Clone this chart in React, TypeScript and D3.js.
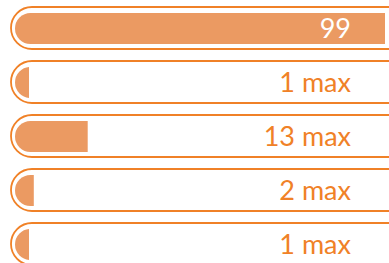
import React from "react";
import * as d3 from "d3";

// values
const rows = ["a", "b", "c", "d", "e"];
const values = [99, 1, 13, 2, 1];
const labels = ["99", "1 max", "13 max", "2 max", "1 max"];
const labelInside = [true, false, false, false, false];

const W = 389;
const H = 263;

export default function App() {
  const y = d3.scaleBand<string>()
    .domain(rows)
    .range([7, 265])
    .paddingInner(12 / 54)
    .paddingOuter(0);

  // bar length scale; fill never runs past the end of the inner track
  const x = d3.scaleLinear().domain([0, 100]).range([9, 499]);
  const trackLeft = 15;
  const trackEnd = 385;

  const outline = "#F08127";
  const fill = "#EB9A62";

  return (
    <svg width={W} height={H} style={{ position: "absolute", left: 0, top: 0 }}>
      <defs>
        {rows.map((r, i) => {
          const w = Math.min(x(values[i]), trackEnd - trackLeft);
          return (
            <clipPath id={"clip-" + r} key={r}>
              <rect x={trackLeft} y={(y(r) ?? 0) + 6} width={w} height={31} />
            </clipPath>
          );
        })}
      </defs>
      {rows.map((r, i) => {
        const top = y(r) ?? 0;
        const bh = y.bandwidth();
        return (
          <g key={r}>
            <rect x={11} y={top} width={440} height={bh} rx={bh / 2}
              fill="white" stroke={outline} strokeWidth={1.8} />
            <rect x={trackLeft} y={top + 6} width={500} height={bh - 11} rx={15.5}
              fill={fill} clipPath={`url(#clip-${r})`} />
            <text x={351} y={top + bh / 2 + 10} textAnchor="end"
              fontFamily="Lato, 'Open Sans', sans-serif" fontSize={27}
              fill={labelInside[i] ? "white" : outline}>
              {labels[i]}
            </text>
          </g>
        );
      })}
    </svg>
  );
}
